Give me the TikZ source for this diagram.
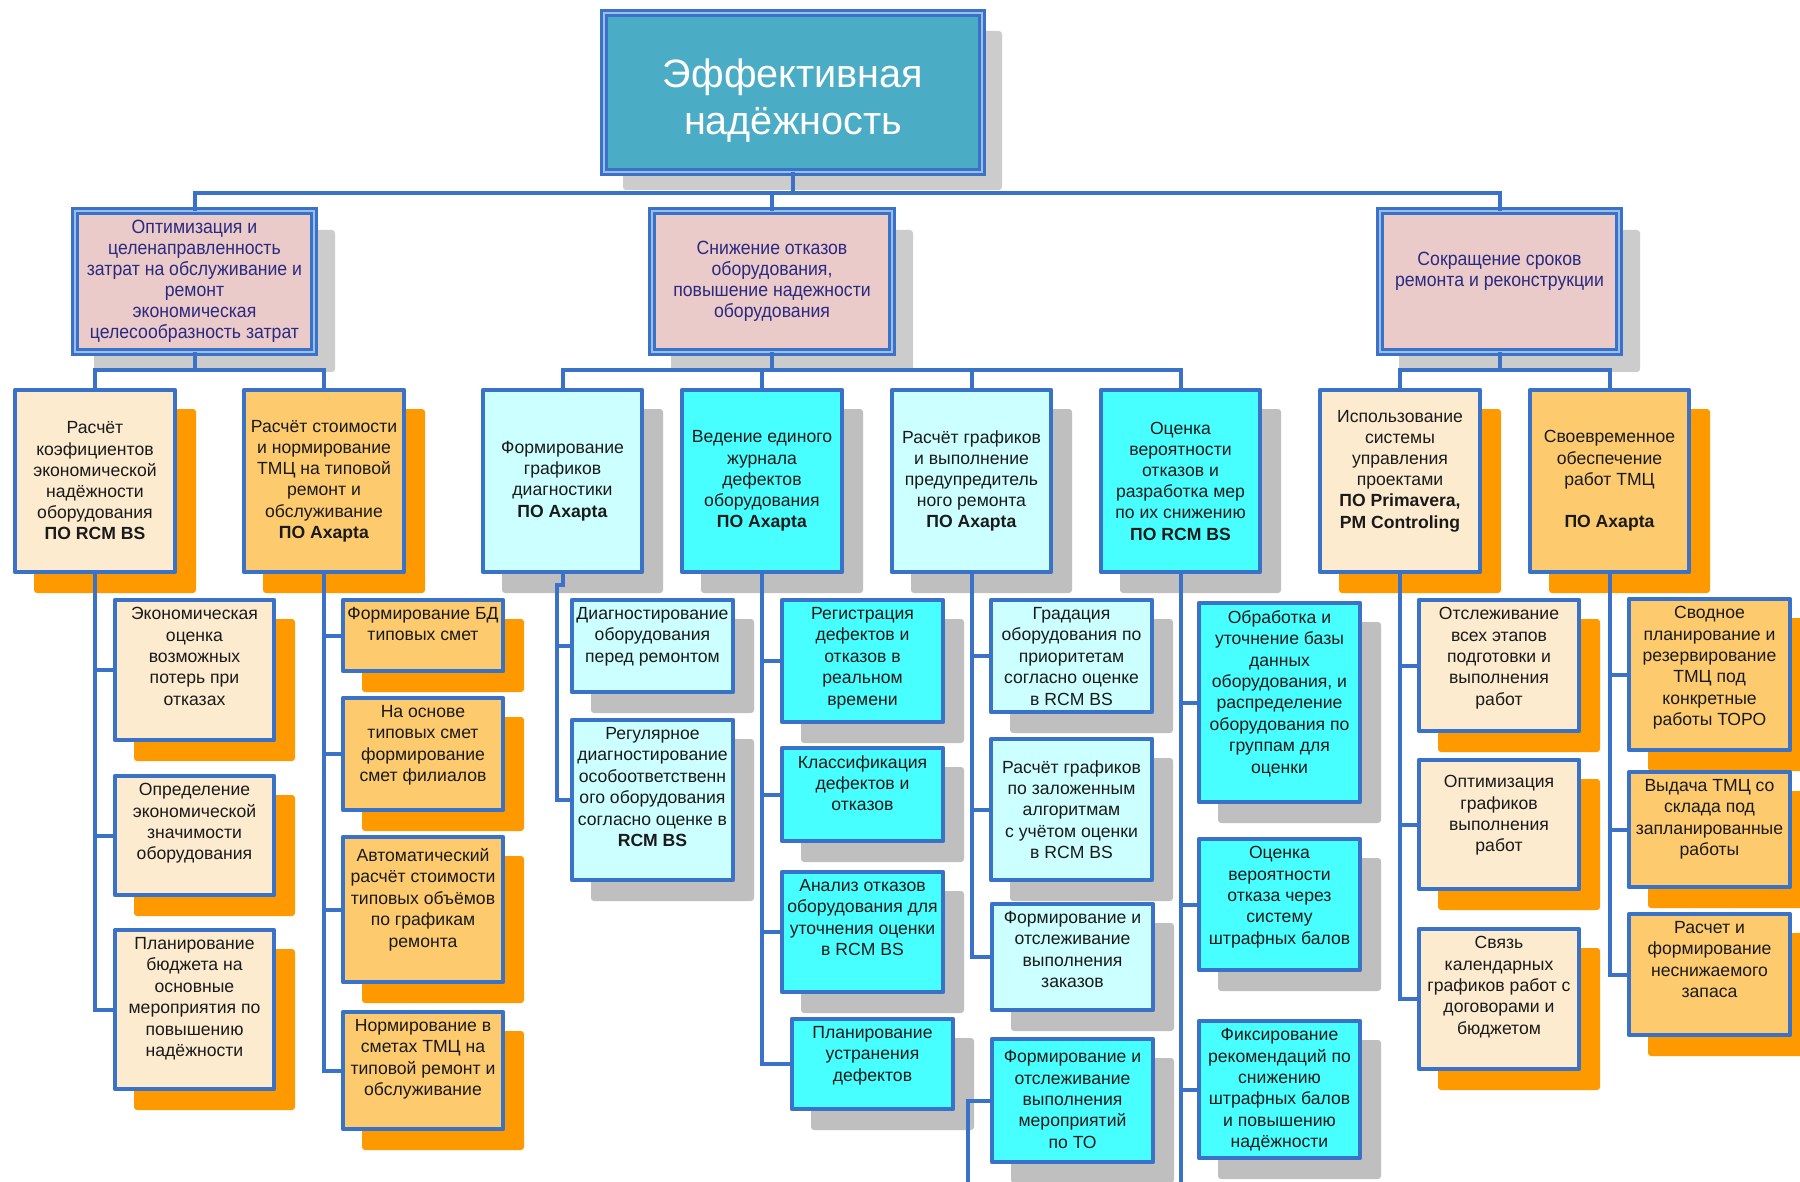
\documentclass[tikz,border=0pt]{standalone}
\usepackage{fontspec}
\setmainfont{Liberation Sans}
\newfontfamily\narrowfnt{Liberation Sans}[FakeStretch=0.92]
\definecolor{bcol}{HTML}{3A72C8}
\definecolor{dblcol}{HTML}{9DBDEB}
\definecolor{rootfill}{HTML}{4BACC6}
\definecolor{pinkfill}{HTML}{EBCACA}
\definecolor{peach}{HTML}{FDEBCF}
\definecolor{lorange}{HTML}{FDCB6E}
\definecolor{oshadow}{HTML}{FF9900}
\definecolor{lcyan}{HTML}{CCFFFF}
\definecolor{cyanf}{HTML}{47FFFF}
\definecolor{gshadow}{HTML}{BFBFBF}
\definecolor{lshadow}{HTML}{CCCCCC}
\definecolor{txtc}{HTML}{1A1A1A}
\definecolor{navyt}{HTML}{2A2A80}
\tikzset{
  boxst/.style={draw=bcol, line width=2.3pt, line join=round, inner sep=0pt, outer sep=0pt, rectangle},
  dblbox/.style={draw=bcol, line width=1.3pt, double=dblcol, double distance=1.1pt, inner sep=0pt, outer sep=0pt, rectangle},
  conn/.style={draw=bcol, line width=2pt},
  tthree/.style={font=\fontsize{8.8}{10.7}\selectfont, text=txtc, align=center, inner sep=0pt, anchor=north},
  ttwo/.style={font=\fontsize{8.8}{10.6}\selectfont, text=txtc, align=center, inner sep=0pt},
  tone/.style={font=\narrowfnt\fontsize{9.6}{10.5}\selectfont, text=navyt, align=center, inner sep=0pt},
}
% name, x1, y1, x2, y2, fill, shadow colour
\newcommand{\qbox}[7]{%
  \fill[#7, rounded corners=1.5pt] ({#2+19},{#3+19}) rectangle ({#4+21},{#5+21});
  \node[boxst, fill=#6, minimum width={(#4-#2)*0.5pt}, minimum height={(#5-#3)*0.5pt}] (#1) at ({(#2+#4)/2},{(#3+#5)/2}) {};
}
\newcommand{\qtop}[2]{\node[tthree] (#1t) at ([yshift=-3.5pt]#1.north) {#2};}
\newcommand{\qtopd}[3]{\node[tthree] (#1t) at ([yshift=-3.5pt-#2]#1.north) {#3};}
\newcommand{\qmid}[2]{\node[ttwo] (#1t) at (#1.center) {#2};}
\begin{document}
\begin{tikzpicture}[x=0.5pt, y=-0.5pt]
\useasboundingbox (0,0) rectangle (1800,1182);
\fill[white] (0,0) rectangle (1800,1182);

% root
\fill[lshadow, rounded corners=1.5pt] (623,31) rectangle (1002,190);
\node[dblbox, fill=rootfill, minimum width={378*0.5pt}, minimum height={159*0.5pt}] (root) at (793,92.5) {};
\node[font=\fontsize{19.8}{23.5}\selectfont, text=white, align=center, inner sep=0pt] (roott) at (793,101) {Эффективная\\надёжность};

% level 1
\fill[lshadow, rounded corners=1.5pt] (94,230) rectangle (335,372);
\node[dblbox, fill=pinkfill, minimum width={239*0.5pt}, minimum height={141*0.5pt}] (b1) at (194.5,281.5) {};
\node[tone] (b1t) at (194.5,281.5) {Оптимизация и\\целенаправленность\\затрат на обслуживание и\\ремонт\\экономическая\\целесообразность затрат};
\fill[lshadow, rounded corners=1.5pt] (671,230) rectangle (913,372);
\node[dblbox, fill=pinkfill, minimum width={240*0.5pt}, minimum height={141*0.5pt}] (b2) at (772,281.5) {};
\node[tone] (b2t) at (772,281.5) {Снижение отказов\\оборудования,\\повышение надежности\\оборудования};
\fill[lshadow, rounded corners=1.5pt] (1399,230) rectangle (1640,372);
\node[dblbox, fill=pinkfill, minimum width={239*0.5pt}, minimum height={141*0.5pt}] (b3) at (1499.5,281.5) {};
\node[tone] (b3t) at (1499.5,271) {Сокращение сроков\\ремонта и реконструкции};

% level 2
\qbox{c1}{15}{390}{175}{572}{peach}{oshadow}
\qmid{c1}{Расчёт\\коэфициентов\\экономической\\надёжности\\оборудования\\\textbf{ПО RCM BS}}
\qbox{c2}{244}{390}{404}{572}{lorange}{oshadow}
\qmid{c2}{Расчёт стоимости\\и нормирование\\ТМЦ на типовой\\ремонт и\\обслуживание\\\textbf{ПО Axapta}}
\qbox{c3}{483}{390}{642}{572}{lcyan}{gshadow}
\qmid{c3}{Формирование\\графиков\\диагностики\\\textbf{ПО Axapta}}
\qbox{c4}{682}{390}{842}{572}{cyanf}{gshadow}
\qmid{c4}{Ведение единого\\журнала\\дефектов\\оборудования\\\textbf{ПО Axapta}}
\qbox{c5}{892}{390}{1051}{572}{lcyan}{gshadow}
\qmid{c5}{Расчёт графиков\\и выполнение\\предупредитель\\ного ремонта\\\textbf{ПО Axapta}}
\qbox{c6}{1101}{390}{1260}{572}{cyanf}{gshadow}
\qmid{c6}{Оценка\\вероятности\\отказов и\\разработка мер\\по их снижению\\\textbf{ПО RCM BS}}
\qbox{c7}{1320}{390}{1480}{572}{peach}{oshadow}
\node[ttwo] (c7t) at ([yshift=5pt]c7.center) {Использование\\системы\\управления\\проектами\\\textbf{ПО Primavera,}\\\textbf{PM Controling}};
\qbox{c8}{1530}{390}{1689}{572}{lorange}{oshadow}
\qmid{c8}{Своевременное\\обеспечение\\работ ТМЦ\\\mbox{}\\\textbf{ПО Axapta}}

% level 3
\qbox{d1a}{115}{600}{274}{740}{peach}{oshadow}
\qtop{d1a}{Экономическая\\оценка\\возможных\\потерь при\\отказах}
\qbox{d1b}{115}{776}{274}{895}{peach}{oshadow}
\qtop{d1b}{Определение\\экономической\\значимости\\оборудования}
\qbox{d1c}{115}{930}{274}{1089}{peach}{oshadow}
\qtop{d1c}{Планирование\\бюджета на\\основные\\мероприятия по\\повышению\\надёжности}

\qbox{d2a}{343}{600}{503}{671}{lorange}{oshadow}
\qtop{d2a}{Формирование БД\\типовых смет}
\qbox{d2b}{343}{698}{503}{810}{lorange}{oshadow}
\qtop{d2b}{На основе\\типовых смет\\формирование\\смет филиалов}
\qbox{d2c}{343}{837}{503}{982}{lorange}{oshadow}
\qtopd{d2c}{2pt}{Автоматический\\расчёт стоимости\\типовых объёмов\\по графикам\\ремонта}
\qbox{d2d}{343}{1012}{503}{1129}{lorange}{oshadow}
\qtop{d2d}{Нормирование в\\сметах ТМЦ на\\типовой ремонт и\\обслуживание}

\qbox{d3a}{572}{600}{733}{692}{lcyan}{gshadow}
\qtop{d3a}{Диагностирование\\оборудования\\перед ремонтом}
\qbox{d3b}{572}{720}{733}{880}{lcyan}{gshadow}
\qtop{d3b}{Регулярное\\диагностирование\\особоответственн\\ого оборудования\\согласно оценке в\\\textbf{RCM BS}}

\qbox{d4a}{782}{600}{943}{722}{cyanf}{gshadow}
\qtop{d4a}{Регистрация\\дефектов и\\отказов в\\реальном\\времени}
\qbox{d4b}{782}{748}{943}{841}{cyanf}{gshadow}
\qtop{d4b}{Классификация\\дефектов и\\отказов}
\qbox{d4c}{782}{872}{943}{992}{cyanf}{gshadow}
\qtop{d4c}{Анализ отказов\\оборудования для\\уточнения оценки\\в RCM BS}
\qbox{d4d}{792}{1019}{953}{1109}{cyanf}{gshadow}
\qtop{d4d}{Планирование\\устранения\\дефектов}

\qbox{d5a}{991}{600}{1152}{712}{lcyan}{gshadow}
\qtop{d5a}{Градация\\оборудования по\\приоритетам\\согласно оценке\\в RCM BS}
\qbox{d5b}{991}{739}{1152}{880}{lcyan}{gshadow}
\qtopd{d5b}{7pt}{Расчёт графиков\\по заложенным\\алгоритмам\\с учётом оценки\\в RCM BS}
\qbox{d5c}{992}{904}{1153}{1010}{lcyan}{gshadow}
\qtop{d5c}{Формирование и\\отслеживание\\выполнения\\заказов}
\qbox{d5d}{992}{1039}{1153}{1162}{cyanf}{gshadow}
\qtopd{d5d}{2pt}{Формирование и\\отслеживание\\выполнения\\мероприятий\\по ТО}

\qbox{d6a}{1199}{603}{1360}{802}{cyanf}{gshadow}
\qtop{d6a}{Обработка и\\уточнение базы\\данных\\оборудования, и\\распределение\\оборудования по\\группам для\\оценки}
\qbox{d6b}{1199}{839}{1360}{970}{cyanf}{gshadow}
\qtop{d6b}{Оценка\\вероятности\\отказа через\\систему\\штрафных балов}
\qbox{d6c}{1199}{1021}{1360}{1158}{cyanf}{gshadow}
\qtop{d6c}{Фиксирование\\рекомендаций по\\снижению\\штрафных балов\\и повышению\\надёжности}

\qbox{d7a}{1419}{600}{1579}{731}{peach}{oshadow}
\qtop{d7a}{Отслеживание\\всех этапов\\подготовки и\\выполнения\\работ}
\qbox{d7b}{1419}{760}{1579}{889}{peach}{oshadow}
\qtopd{d7b}{4pt}{Оптимизация\\графиков\\выполнения\\работ}
\qbox{d7c}{1419}{929}{1579}{1069}{peach}{oshadow}
\qtop{d7c}{Связь\\календарных\\графиков работ с\\договорами и\\бюджетом}

\qbox{d8a}{1629}{599}{1790}{750}{lorange}{oshadow}
\qtop{d8a}{Сводное\\планирование и\\резервирование\\ТМЦ под\\конкретные\\работы ТОРО}
\qbox{d8b}{1629}{772}{1790}{887}{lorange}{oshadow}
\qtop{d8b}{Выдача ТМЦ со\\склада под\\запланированные\\работы}
\qbox{d8c}{1629}{914}{1790}{1035}{lorange}{oshadow}
\qtop{d8c}{Расчет и\\формирование\\неснижаемого\\запаса}

% connectors
\coordinate (bus0) at (0,193);
\coordinate (bus1) at (0,370);
\coordinate (bottom) at (0,1190);
\coordinate (c3j) at (557,585);
\coordinate (d5dfoot) at (968,1190);

\draw[conn] (root.south) -- (root.south |- bus0) -| (b1.north);
\draw[conn] (root.south) -- (root.south |- bus0) -| (b2.north);
\draw[conn] (root.south) -- (root.south |- bus0) -| (b3.north);

\draw[conn] (b1.south) -- (b1.south |- bus1) -| (c1.north);
\draw[conn] (b1.south) -- (b1.south |- bus1) -| (c2.north);
\foreach \c in {c3,c4,c5,c6} {\draw[conn] (b2.south) -- (b2.south |- bus1) -| (\c.north);}
\draw[conn] (b3.south) -- (b3.south |- bus1) -| (c7.north);
\draw[conn] (b3.south) -- (b3.south |- bus1) -| (c8.north);

\foreach \d in {d1a,d1b,d1c} {\draw[conn] (c1.south) |- (\d.west);}
\foreach \d in {d2a,d2b,d2c,d2d} {\draw[conn] (c2.south) |- (\d.west);}
\draw[conn] (c3.south) |- (c3j) |- (d3a.west);
\draw[conn] (c3j) |- (d3b.west);
\foreach \d in {d4a,d4b,d4c,d4d} {\draw[conn] (c4.south) |- (\d.west);}
\foreach \d in {d5a,d5b,d5c} {\draw[conn] (c5.south) |- (\d.west);}
\draw[conn] (d5dfoot) |- (d5d.west);
\draw[conn] (c6.south) -- (c6.south |- bottom);
\foreach \d in {d6a,d6b,d6c} {\draw[conn] (c6.south) |- (\d.west);}
\foreach \d in {d7a,d7b,d7c} {\draw[conn] (c7.south) |- (\d.west);}
\foreach \d in {d8a,d8b,d8c} {\draw[conn] (c8.south) |- (\d.west);}
\end{tikzpicture}
\end{document}
